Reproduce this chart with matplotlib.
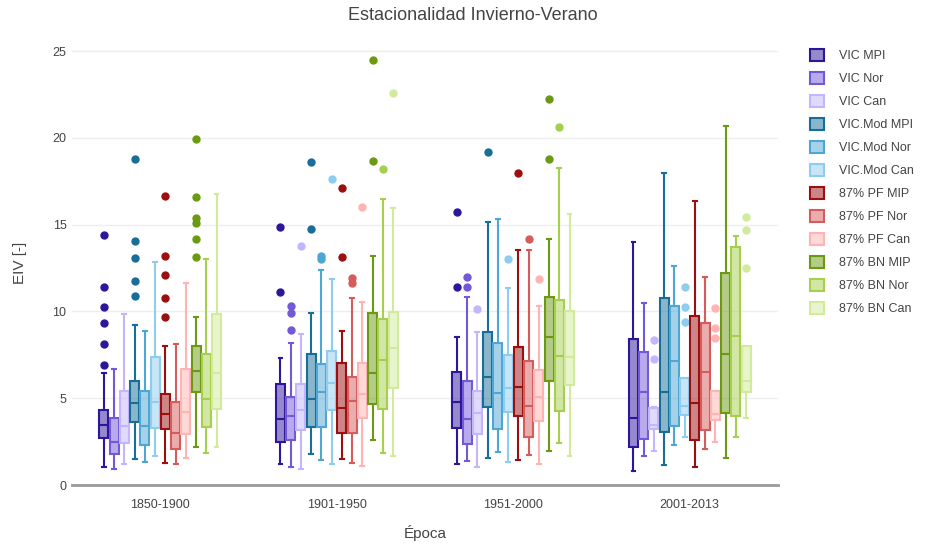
import matplotlib
matplotlib.use("Agg")
import matplotlib.pyplot as plt
from matplotlib.colors import to_rgba
from matplotlib.patches import Patch

plt.rcParams['font.family'] = ['Liberation Sans', 'DejaVu Sans']

categories = ["1850-1900", "1901-1950", "1951-2000", "2001-2013"]
series_names = ["VIC MPI", "VIC Nor", "VIC Can", "VIC.Mod MPI", "VIC.Mod Nor", "VIC.Mod Can",
                "87% PF MIP", "87% PF Nor", "87% PF Can", "87% BN MIP", "87% BN Nor", "87% BN Can"]
colors = ["#2d169b", "#7358d8", "#c3b6ff", "#176e99", "#4ea6d4", "#8ecdee",
          "#9c0f10", "#d65c5c", "#ffb3b3", "#6b9a12", "#a6cf4c", "#d2ea9b"]

whisker_low = [
    [1.06, 1.19, 1.19, 0.81], [0.92, 1.06, 1.40, 1.69], [1.21, 0.90, 1.06, 1.98],
    [1.50, 1.77, 1.54, 1.15], [1.30, 1.44, 1.92, 2.30], [1.69, 1.21, 1.30, 2.78],
    [1.29, 1.50, 1.44, 1.02], [1.19, 1.29, 1.73, 2.07], [1.54, 1.11, 1.21, 2.50],
    [2.17, 2.59, 1.98, 1.57], [1.83, 1.86, 2.44, 2.78], [2.17, 1.69, 1.69, 3.88]]
q1 = [
    [2.69, 2.46, 3.27, 2.17], [1.77, 2.59, 2.34, 2.65], [2.44, 3.17, 2.92, 3.21],
    [3.61, 3.32, 4.51, 3.07], [2.28, 3.32, 3.23, 3.42], [3.30, 4.32, 4.19, 4.03],
    [3.25, 2.98, 3.97, 2.59], [2.05, 2.98, 2.78, 3.17], [2.94, 3.84, 3.70, 3.74],
    [5.38, 4.67, 6.01, 4.13], [3.36, 4.40, 4.26, 3.99], [4.38, 5.57, 5.76, 5.34]]
median = [
    [3.46, 3.78, 4.80, 3.84], [2.50, 3.99, 3.78, 5.38], [3.42, 4.32, 4.13, 3.46],
    [4.70, 4.95, 6.24, 5.34], [3.42, 5.38, 5.28, 7.16], [4.80, 5.86, 5.61, 4.57],
    [4.09, 4.45, 5.63, 4.70], [3.01, 4.86, 4.57, 6.49], [4.22, 5.22, 5.05, 4.09],
    [6.59, 6.47, 8.51, 7.55], [4.95, 7.20, 7.45, 8.58], [6.43, 7.87, 7.39, 6.01]]
q3 = [
    [4.32, 5.82, 6.49, 8.39], [3.88, 5.09, 6.01, 7.68], [5.43, 5.82, 5.41, 4.45],
    [6.01, 7.55, 8.80, 10.79], [5.39, 6.97, 8.16, 10.33], [7.39, 7.74, 7.49, 6.15],
    [5.24, 7.01, 7.97, 9.74], [4.76, 6.20, 7.16, 9.31], [6.66, 7.01, 6.62, 5.43],
    [8.03, 9.89, 10.85, 12.23], [7.55, 9.58, 10.66, 13.69], [9.85, 9.98, 10.04, 8.03]]
whisker_high = [
    [6.43, 7.30, 8.51, 13.98], [6.66, 8.16, 10.81, 10.50], [9.85, 8.70, 8.80, 4.47],
    [9.22, 9.89, 15.15, 17.99], [8.89, 12.38, 15.32, 12.63], [12.87, 11.85, 11.33, 6.15],
    [8.03, 8.89, 13.54, 16.38], [8.12, 10.75, 13.54, 11.96], [11.62, 10.56, 10.33, 5.43],
    [9.70, 13.19, 14.15, 20.68], [13.00, 16.46, 18.28, 14.34], [16.74, 15.94, 15.61, 8.03]]
outliers = [
    [[14.4, 11.42, 10.23, 9.35, 8.12, 6.91], [14.88, 11.14], [15.74, 11.42], []],
    [[], [10.31, 9.93, 8.93], [11.98, 11.39], []],
    [[], [13.77], [10.14], [8.35, 7.24]],
    [[18.76, 14.04, 13.06, 11.75, 10.87], [18.59, 14.73], [19.16], []],
    [[], [13.19, 13.0], [], []],
    [[], [17.61], [13.02], [11.42, 10.27, 9.37]],
    [[16.67, 13.19, 12.10, 10.75, 9.66], [17.09, 13.12], [17.95], []],
    [[], [11.94, 11.65], [14.15], []],
    [[], [16.0], [11.85], [10.21, 9.02, 8.45]],
    [[19.91, 16.61, 15.40, 15.07, 14.19, 13.13], [24.48, 18.66], [22.25, 18.80], []],
    [[], [18.20], [20.64], []],
    [[], [22.56], [], [15.46, 14.69, 12.52]]]

W, H = 928, 546
fig = plt.figure(figsize=(W / 100, H / 100), dpi=100)
ax = fig.add_axes([72 / W, 1 - 485 / H, (778 - 72) / W, (485 - 40) / H])

n = len(series_names)
step = 0.058
bw = 0.051
for j in range(n):
    stats = []
    pos = []
    for i in range(len(categories)):
        stats.append(dict(whislo=whisker_low[j][i], q1=q1[j][i], med=median[j][i],
                          q3=q3[j][i], whishi=whisker_high[j][i], fliers=outliers[j][i]))
        pos.append(i + (j - (n - 1) / 2) * step)
    c = colors[j]
    ax.bxp(stats, positions=pos, widths=bw, patch_artist=True, showfliers=True,
           capwidths=0.022, manage_ticks=False,
           boxprops=dict(facecolor=to_rgba(c, 0.5), edgecolor=c, linewidth=1.5),
           medianprops=dict(color=c, linewidth=1.5),
           whiskerprops=dict(color=c, linewidth=1.5),
           capprops=dict(color=c, linewidth=1.5),
           flierprops=dict(marker='o', markerfacecolor=c, markeredgecolor=c,
                           markersize=5, linestyle='none'))

ax.set_xlim(-0.5, 3.5)
ax.set_ylim(0, (485 - 40) / 17.36)
ax.set_xticks(range(len(categories)))
ax.set_xticklabels(categories)
ax.set_yticks([0, 5, 10, 15, 20, 25])
ax.grid(axis='y', color='#eeeeee', linewidth=1)
ax.set_axisbelow(True)
for s in ['top', 'right', 'left']:
    ax.spines[s].set_visible(False)
ax.spines['bottom'].set_color('#999999')
ax.spines['bottom'].set_linewidth(2)
ax.tick_params(axis='both', length=0, labelsize=9, labelcolor='#444444')
ax.tick_params(axis='x', pad=10)
ax.tick_params(axis='y', pad=4)
ax.set_xlabel("Época", fontsize=11, color='#444444', labelpad=10)
ax.set_ylabel("EIV [-]", fontsize=11, color='#444444', labelpad=18)
fig.text(473 / W, 1 - 15 / H, "Estacionalidad Invierno-Verano", ha='center', va='center',
         fontsize=13, color='#444444')

handles = [Patch(facecolor=to_rgba(c, 0.5), edgecolor=c, linewidth=1.5) for c in colors]
leg = fig.legend(handles, series_names, loc='upper left', bbox_to_anchor=(805 / W, 1 - 44 / H),
                 frameon=False, fontsize=9, handlelength=1.1, handleheight=1.1,
                 labelspacing=0.78, handletextpad=1.2, borderaxespad=0)
for t in leg.get_texts():
    t.set_color('#444444')

fig.savefig("out.png", dpi=100)
